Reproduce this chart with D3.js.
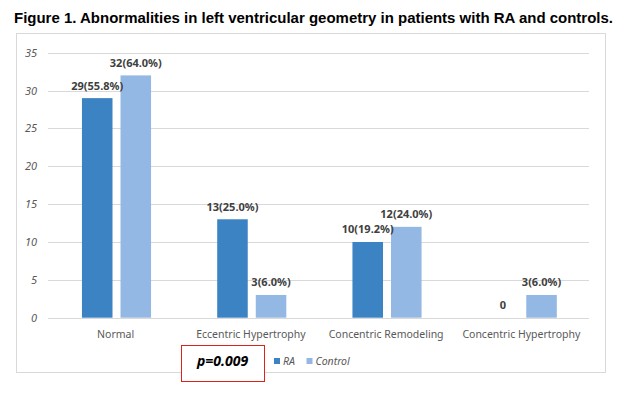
<!DOCTYPE html>
<meta charset="utf-8">
<script src="https://d3js.org/d3.v7.min.js"></script>
<style>
  body { margin: 0; background: #fff; }
  text { font-family: "Noto Sans", "Open Sans", sans-serif; }
</style>
<svg id="chart" width="632" height="397"></svg>
<script>

// data
const categories = ["Normal", "Eccentric Hypertrophy", "Concentric Remodeling", "Concentric Hypertrophy"];
const groups = ["RA", "Control"];
const raValues = [29, 13, 10, 0];
const controlValues = [32, 3, 12, 3];
const raLabels = ["29(55.8%)", "13(25.0%)", "10(19.2%)", "0"];
const controlLabels = ["32(64.0%)", "3(6.0%)", "12(24.0%)", "3(6.0%)"];
const yTicks = [0, 5, 10, 15, 20, 25, 30, 35];

const svg = d3.select("#chart");
const colors = { RA: "#3c83c3", Control: "#93b8e3" };

// title
svg.append("text")
  .attr("x", 14)
  .attr("y", 23)
  .attr("textLength", 599)
  .attr("lengthAdjust", "spacingAndGlyphs")
  .style("font-family", "'Liberation Sans', Arial, sans-serif")
  .style("font-weight", "bold")
  .style("font-size", "15px")
  .attr("fill", "#000")
  .text("Figure 1. Abnormalities in left ventricular geometry in patients with RA and controls.");

// chart frame
svg.append("rect")
  .attr("x", 16.5).attr("y", 33.5)
  .attr("width", 589).attr("height", 339)
  .attr("fill", "none")
  .attr("stroke", "#d9d9d9");

const x = d3.scaleBand().domain(categories).range([48, 589]);
const bw = x.bandwidth();
const x1 = d3.scaleBand().domain(groups).range([bw * 0.251, bw * 0.762]).paddingInner(0.208);
const y = d3.scaleLinear().domain([0, 35]).range([317.7, 52.7]);

// gridlines
svg.append("g")
  .selectAll("line")
  .data(yTicks)
  .join("line")
    .attr("x1", 48).attr("x2", 589)
    .attr("y1", d => Math.round(y(d)) + 0.5)
    .attr("y2", d => Math.round(y(d)) + 0.5)
    .attr("stroke", "#d9d9d9");

// y labels
svg.append("g")
  .selectAll("text")
  .data(yTicks)
  .join("text")
    .attr("x", 37)
    .attr("y", d => y(d) + 4)
    .attr("text-anchor", "end")
    .style("font-size", "11px")
    .style("font-style", "italic")
    .attr("fill", "#595959")
    .text(d => d);

// bars
const rows = categories.map((c, i) => ({
  cat: c,
  vals: [
    { g: "RA", v: raValues[i], label: raLabels[i] },
    { g: "Control", v: controlValues[i], label: controlLabels[i] }
  ]
}));

const cat = svg.append("g")
  .selectAll("g")
  .data(rows)
  .join("g")
    .attr("transform", d => `translate(${x(d.cat)},0)`);

cat.selectAll("rect")
  .data(d => d.vals)
  .join("rect")
    .attr("x", d => x1(d.g))
    .attr("y", d => y(d.v))
    .attr("width", x1.bandwidth())
    .attr("height", d => y(0) - y(d.v))
    .attr("fill", d => colors[d.g]);

cat.selectAll("text")
  .data(d => d.vals)
  .join("text")
    .attr("x", d => x1(d.g) + x1.bandwidth() / 2)
    .attr("y", d => y(d.v) - (d.v === 0 ? 9 : 8.5))
    .attr("text-anchor", "middle")
    .style("font-size", "11px")
    .style("font-weight", "bold")
    .attr("fill", "#404040")
    .text(d => d.label);

// category labels
svg.append("g")
  .selectAll("text")
  .data(categories)
  .join("text")
    .attr("x", d => x(d) + bw / 2)
    .attr("y", 338)
    .attr("text-anchor", "middle")
    .style("font-size", "10.5px")
    .attr("fill", "#595959")
    .text(d => d);

// legend
const legendX = [274, 306.5];
const legend = svg.append("g")
  .selectAll("g")
  .data(groups)
  .join("g")
    .attr("transform", (d, i) => `translate(${legendX[i]},358)`);
legend.append("rect")
  .attr("width", 6).attr("height", 6)
  .attr("fill", d => colors[d]);
legend.append("text")
  .attr("x", 9).attr("y", 7)
  .style("font-size", "10.5px")
  .style("font-style", "italic")
  .attr("fill", "#595959")
  .text(d => d);

// p-value box
svg.append("rect")
  .attr("x", 181.5).attr("y", 345.5)
  .attr("width", 83).attr("height", 36)
  .attr("fill", "#fff")
  .attr("stroke", "#e0201b")
  .attr("stroke-width", 1);
svg.append("text")
  .attr("x", 197)
  .attr("y", 366)
  .style("font-size", "14px")
  .style("font-weight", "bold")
  .style("font-style", "italic")
  .attr("fill", "#000")
  .text("p=0.009");

</script>
